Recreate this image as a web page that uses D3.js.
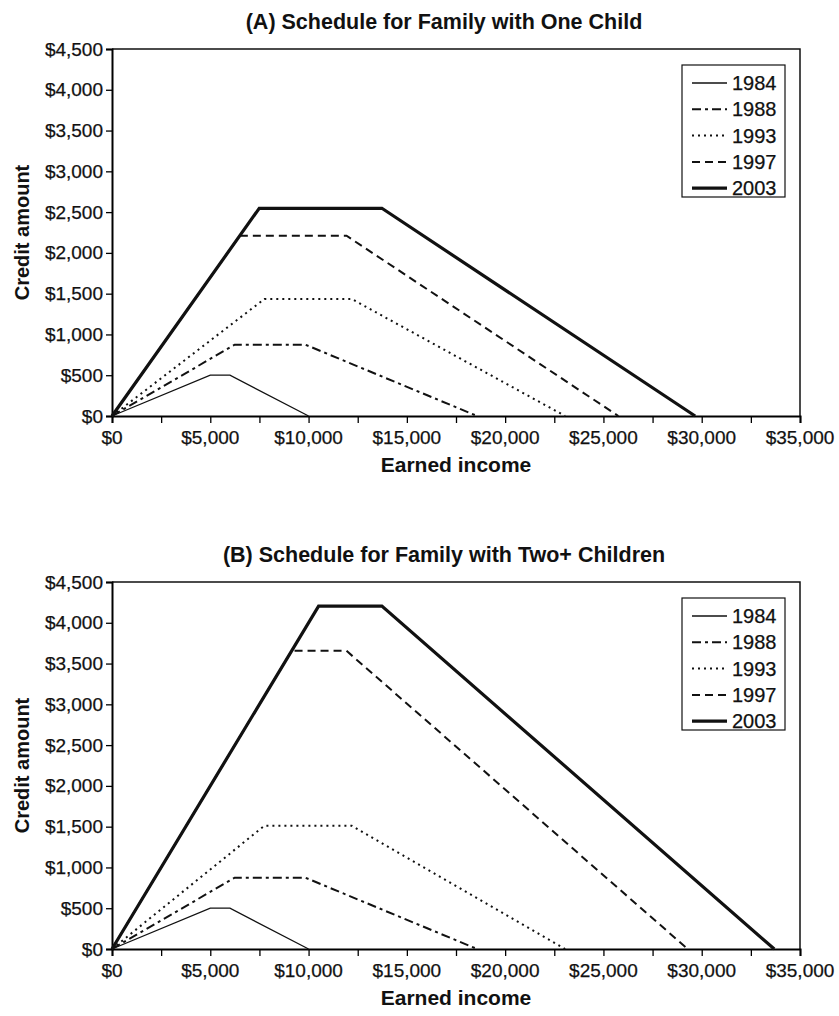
<!DOCTYPE html>
<html lang="en">
<meta charset="UTF-8">
<style>
    body { margin: 0; background: #fff; }
    svg text { font-family: "Liberation Sans", Arial, Helvetica, sans-serif; fill: #111; }
    .title, .axis-title { font-weight: bold; }
    .lbl { stroke: #111; stroke-width: 0.25px; }
    .frame { fill: none; stroke: #111; stroke-width: 1.5px; }
    .curve { fill: none; stroke: #111; stroke-linejoin: miter; }
</style>
<body>
<svg id="chart" width="839" height="1016"></svg>
<script src="https://d3js.org/d3.v7.min.js"></script>
<script>
// legend order / years
const years = ["1984", "1988", "1993", "1997", "2003"];

// schedule points: [earned income, credit] -- one child
const oneChild1984 = [[0, 0], [5000, 500], [6000, 500], [10000, 0]];
const oneChild1988 = [[0, 0], [6240, 874], [9840, 874], [18576, 0]];
const oneChild1993 = [[0, 0], [7750, 1434], [12200, 1434], [23050, 0]];
const oneChild1997 = [[0, 0], [6500, 2210], [11930, 2210], [25760, 0]];
const oneChild2003 = [[0, 0], [7490, 2547], [13730, 2547], [29666, 0]];

// two+ children
const twoChild1984 = [[0, 0], [5000, 500], [6000, 500], [10000, 0]];
const twoChild1988 = [[0, 0], [6240, 874], [9840, 874], [18576, 0]];
const twoChild1993 = [[0, 0], [7750, 1511], [12200, 1511], [23050, 0]];
const twoChild1997 = [[0, 0], [9140, 3656], [11930, 3656], [29290, 0]];
const twoChild2003 = [[0, 0], [10510, 4204], [13730, 4204], [33692, 0]];

const xTicks = [0, 2500, 5000, 7500, 10000, 12500, 15000, 17500, 20000, 22500, 25000, 27500, 30000, 32500, 35000];
const xLabels = [0, 5000, 10000, 15000, 20000, 25000, 30000, 35000];
const yTicks = [0, 500, 1000, 1500, 2000, 2500, 3000, 3500, 4000, 4500];

const panels = [
    { title: "(A) Schedule for Family with One Child", top: 49,
      series: [oneChild1984, oneChild1988, oneChild1993, oneChild1997, oneChild2003] },
    { title: "(B) Schedule for Family with Two+ Children", top: 582,
      series: [twoChild1984, twoChild1988, twoChild1993, twoChild1997, twoChild2003] }
];

// line styles per year
const styles = [
    { w: 1.3, dash: null },
    { w: 2, dash: "9,4,3,4" },
    { w: 2, dash: "2,4" },
    { w: 2, dash: "8,5" },
    { w: 3.2, dash: null }
];

const svg = d3.select("#chart");
const left = 112, right = 800, plotH = 367;
const fmt = d => "$" + d3.format(",")(d);

panels.forEach(p => {
    const g = svg.append("g");
    const x = d3.scaleLinear().domain([0, 35000]).range([left, right]);
    const y = d3.scaleLinear().domain([0, 4500]).range([p.top + plotH, p.top]);

    g.append("text").attr("class", "title")
        .attr("x", 444).attr("y", p.top - 20)
        .attr("text-anchor", "middle").attr("font-size", "21.5px")
        .text(p.title);

    // frame (top + right)
    g.append("path").attr("class", "frame")
        .attr("d", `M${left},${p.top}H${right}V${p.top + plotH}`);

    // x axis
    const xa = g.append("g").attr("transform", `translate(0,${p.top + plotH})`)
        .call(d3.axisBottom(x).tickValues(xTicks).tickSize(7).tickFormat(""));
    xa.select(".domain").attr("stroke-width", 2);
    xa.selectAll(".tick line").attr("stroke-width", 1.3);
    g.selectAll(".xlab").data(xLabels).enter().append("text")
        .attr("class", "lbl")
        .attr("x", d => x(d)).attr("y", p.top + plotH + 28)
        .attr("text-anchor", "middle").attr("font-size", "19px")
        .text(fmt);

    // y axis
    const ya = g.append("g").attr("transform", `translate(${left},0)`)
        .call(d3.axisLeft(y).tickValues(yTicks).tickSize(6).tickPadding(3).tickFormat(fmt));
    ya.select(".domain").attr("stroke-width", 2);
    ya.selectAll(".tick line").attr("stroke-width", 1.3);
    ya.selectAll("text").attr("class", "lbl").attr("font-size", "19px").attr("fill", "#111")
        .attr("font-family", "Liberation Sans, Arial, sans-serif");

    g.append("text").attr("class", "axis-title")
        .attr("x", 456).attr("y", p.top + plotH + 56)
        .attr("text-anchor", "middle").attr("font-size", "21px")
        .text("Earned income");
    g.append("text").attr("class", "axis-title")
        .attr("transform", `translate(29,${p.top + plotH / 2}) rotate(-90)`)
        .attr("text-anchor", "middle").attr("font-size", "20px")
        .text("Credit amount");

    const line = d3.line().x(d => x(d[0])).y(d => y(d[1]));
    p.series.forEach((s, i) => {
        g.append("path").attr("class", "curve")
            .attr("d", line(s))
            .attr("stroke-width", styles[i].w)
            .attr("stroke-dasharray", styles[i].dash);
    });

    // legend
    const lg = g.append("g").attr("transform", `translate(682,${p.top + 16})`);
    lg.append("rect").attr("width", 103).attr("height", 132)
        .attr("fill", "#fff").attr("stroke", "#111").attr("stroke-width", 1.2);
    years.forEach((yr, i) => {
        const cy = 18 + i * 26.3;
        lg.append("line").attr("x1", 10).attr("x2", 45).attr("y1", cy).attr("y2", cy)
            .attr("stroke", "#111").attr("stroke-width", styles[i].w)
            .attr("stroke-dasharray", styles[i].dash);
        lg.append("text").attr("class", "lbl").attr("x", 50).attr("y", cy + 7)
            .attr("font-size", "20px").text(yr);
    });
});
</script>
</body>
</html>
